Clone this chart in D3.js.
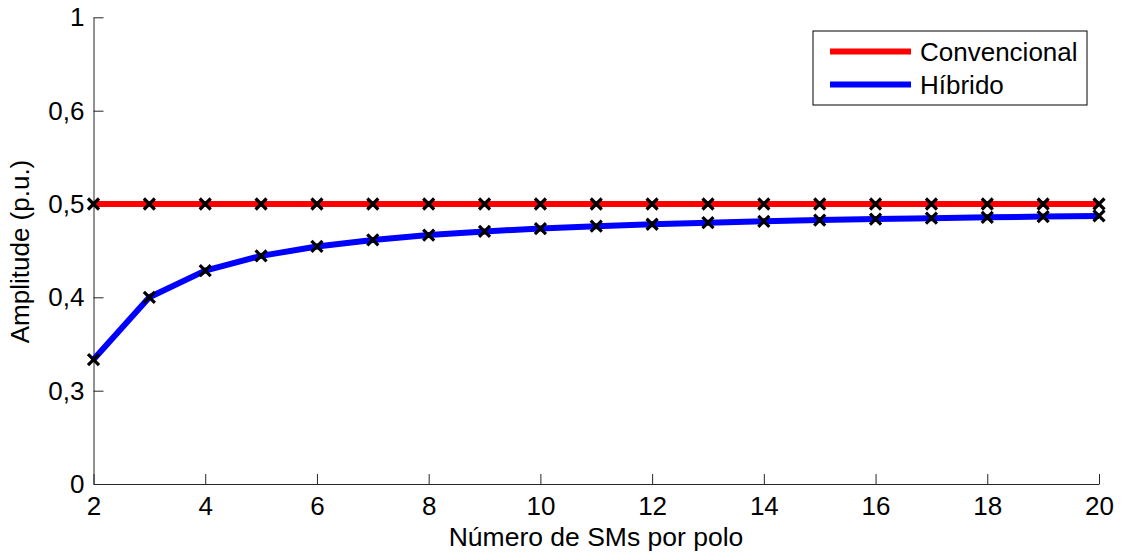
<!DOCTYPE html>
<html>
<head>
<meta charset="utf-8">
<script src="https://cdn.jsdelivr.net/npm/d3@7"></script>
<style>
  html, body { margin: 0; padding: 0; background: #fff; }
  svg { display: block; font-family: "Liberation Sans", Arial, sans-serif; }
</style>
</head>
<body>
<svg id="chart" width="1122" height="554"></svg>
<script>
const smCounts = [2,3,4,5,6,7,8,9,10,11,12,13,14,15,16,17,18,19,20];
const convencional = [0.5,0.5,0.5,0.5,0.5,0.5,0.5,0.5,0.5,0.5,0.5,0.5,0.5,0.5,0.5,0.5,0.5,0.5,0.5];
const hibrido = [0.3333,0.4,0.4286,0.4444,0.4545,0.4615,0.4667,0.4706,0.4737,0.4762,0.4783,0.48,0.4815,0.4828,0.4839,0.4848,0.4857,0.4865,0.4872];
const xTicks = [2,4,6,8,10,12,14,16,18,20];
const yTicks = [0,0.3,0.4,0.5,0.6,1];
const seriesNames = ["Convencional","Híbrido"];
const seriesColors = ["#ff0000","#0000ff"];

const svg = d3.select("#chart");
const x = d3.scaleLinear().domain([2,20]).range([93.5,1099]);
// axis with non-uniform tick spacing (equal visual spacing per tick)
const y = d3.scaleLinear().domain(yTicks).range([484,390.7,297.3,204,110.7,17.3]);

const fmt = d => String(d).replace(".", ",");
const FONT = "'Liberation Sans', Arial, sans-serif";

// X axis
const xAxis = svg.append("g").attr("transform","translate(0,484)")
  .call(d3.axisBottom(x).tickValues(xTicks).tickSize(-10).tickPadding(13).tickSizeOuter(0));
xAxis.attr("font-family", FONT);
xAxis.select(".domain").attr("stroke","#262626");
xAxis.selectAll(".tick line").attr("stroke","#262626");
xAxis.selectAll("text").attr("font-size",26).attr("fill","#000");

// Y axis
const yAxis = svg.append("g").attr("transform","translate(93.5,0)")
  .call(d3.axisLeft(y).tickValues(yTicks).tickFormat(fmt).tickSize(-10).tickPadding(9).tickSizeOuter(0));
yAxis.attr("font-family", FONT);
yAxis.select(".domain").attr("stroke","#262626");
yAxis.selectAll(".tick line").attr("stroke","#262626");
yAxis.selectAll("text").attr("font-size",26).attr("fill","#000");

// Lines
const series = [convencional, hibrido];
const line = d3.line().x((d,i) => x(smCounts[i])).y(d => y(d));
series.forEach((vals, k) => {
  svg.append("path").datum(vals)
    .attr("d", line)
    .attr("fill","none")
    .attr("stroke", seriesColors[k])
    .attr("stroke-width", 6)
    .attr("stroke-linejoin","round");
});

// Markers (x)
const m = 5.5;
series.forEach(vals => {
  svg.append("g").selectAll("path").data(vals).join("path")
    .attr("d", (d,i) => {
      const cx = x(smCounts[i]), cy = y(d);
      return `M${cx-m},${cy-m}L${cx+m},${cy+m}M${cx-m},${cy+m}L${cx+m},${cy-m}`;
    })
    .attr("stroke","#000").attr("stroke-width",3.2).attr("fill","none");
});

// Axis titles
svg.append("text").attr("x",596).attr("y",546).attr("text-anchor","middle")
  .attr("font-size",26.5).attr("fill","#000").text("Número de SMs por polo");
svg.append("text").attr("transform","translate(29,251.5) rotate(-90)").attr("text-anchor","middle")
  .attr("font-size",26).attr("fill","#000").text("Amplitude (p.u.)");

// Legend
const lg = svg.append("g");
lg.append("rect").attr("x",813).attr("y",31).attr("width",274).attr("height",74)
  .attr("fill","#fff").attr("stroke","#000").attr("stroke-width",1);
seriesNames.forEach((name,k) => {
  const cy = 51.5 + k*33;
  lg.append("line").attr("x1",830).attr("x2",911).attr("y1",cy).attr("y2",cy)
    .attr("stroke",seriesColors[k]).attr("stroke-width",6);
  lg.append("text").attr("x",920).attr("y",cy+9.5).attr("font-size",26).attr("fill","#000").text(name);
});
</script>
</body>
</html>
